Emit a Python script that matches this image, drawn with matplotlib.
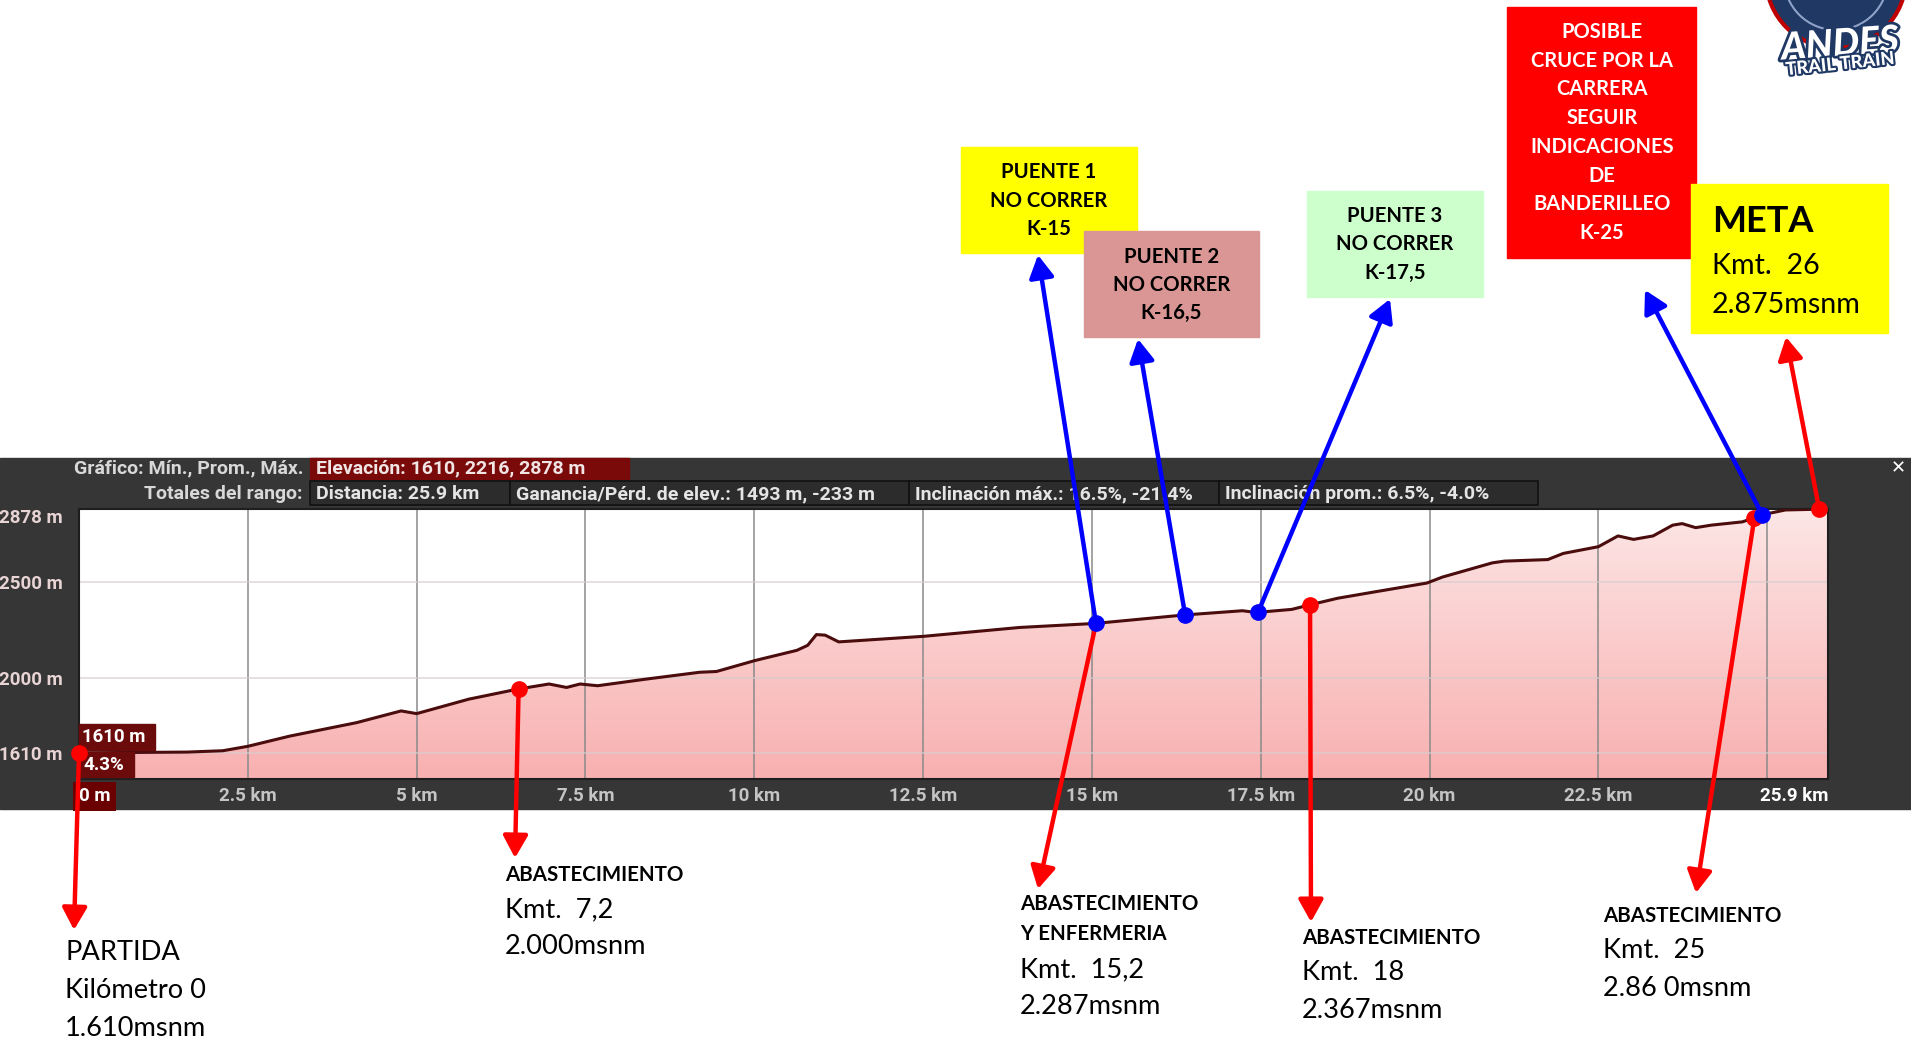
import numpy as np
import matplotlib.pyplot as plt
from matplotlib.patches import Rectangle, Circle
from matplotlib.colors import LinearSegmentedColormap
import matplotlib.patheffects as pe

# elevation profile
dist_km = [0.0, 0.8, 1.6, 2.13, 2.5, 3.12, 4.11, 4.77, 5.0, 5.77, 6.49, 6.96, 7.22, 7.42,
           7.68, 8.41, 9.19, 9.44, 10.01, 10.63, 10.79, 10.92, 11.05, 11.25, 12.51, 13.93,
           15.05, 16.37, 17.23, 17.43, 17.96, 18.22, 18.64, 19.22, 19.96, 20.19, 20.93, 21.11,
           21.75, 21.98, 22.5, 22.79, 23.02, 23.31, 23.6, 23.74, 23.94, 24.17, 24.63, 24.98,
           25.27, 25.9]
elev_m = [1610, 1612, 1614, 1621, 1644, 1697, 1767, 1828, 1814, 1889, 1941, 1968, 1950, 1968,
          1959, 1994, 2029, 2033, 2090, 2143, 2169, 2225, 2222, 2187, 2216, 2262,
          2283, 2327, 2349, 2340, 2356, 2379, 2414, 2449, 2493, 2524, 2598, 2607,
          2615, 2647, 2682, 2738, 2720, 2738, 2794, 2802, 2781, 2794, 2811, 2852,
          2873, 2878]

ytick_m = [1610, 2000, 2500, 2878]
ytick_labels = ['1610 m', '2000 m', '2500 m', '2878 m']
xtick_km = [0, 2.5, 5, 7.5, 10, 12.5, 15, 17.5, 20, 22.5, 25.9]
xtick_labels = ['0 m', '2.5 km', '5 km', '7.5 km', '10 km', '12.5 km', '15 km', '17.5 km',
                '20 km', '22.5 km', '25.9 km']
vgrid_km = [2.5, 5, 7.5, 10, 12.5, 15, 17.5, 20, 22.5, 25]

# header of the elevation widget
header_row1 = 'Gráfico: Mín., Prom., Máx.'
header_elev = 'Elevación: 1610, 2216, 2878 m'
header_row2 = 'Totales del rango:'
header_boxes = ['Distancia: 25.9 km', 'Ganancia/Pérd. de elev.: 1493 m, -233 m',
                'Inclinación máx.: 16.5%, -21.4%', 'Inclinación prom.: 6.5%, -4.0%']

# points of interest (km on the route)
red_dots_km = [0.0, 6.51, 18.23, 24.81, 25.77]
blue_dots_km = [15.06, 16.38, 17.46, 24.93]

puente_labels = [['PUENTE 1', 'NO CORRER', 'K-15'],
                 ['PUENTE 2', 'NO CORRER', 'K-16,5'],
                 ['PUENTE 3', 'NO CORRER', 'K-17,5']]
cruce_label = ['POSIBLE', 'CRUCE POR LA', 'CARRERA', 'SEGUIR', 'INDICACIONES', 'DE',
               'BANDERILLEO', 'K-25']
meta_label = ['META', 'Kmt.  26', '2.875msnm']
partida_label = ['PARTIDA', 'Kilómetro 0', '1.610msnm']
abast_labels = [['ABASTECIMIENTO', 'Kmt.  7,2', '2.000msnm'],
                ['ABASTECIMIENTO', 'Y ENFERMERIA', 'Kmt.  15,2', '2.287msnm'],
                ['ABASTECIMIENTO', 'Kmt.  18', '2.367msnm'],
                ['ABASTECIMIENTO', 'Kmt.  25', '2.86 0msnm']]

W, H = 1911, 1052
SANS = 'Lato'
UI = 'Roboto'
RED = '#ff0000'
BLUE = '#0000ff'
Y0, Y1 = 1474, 2878

fig = plt.figure(figsize=(W / 100, H / 100), dpi=100)

# background layer in pixel coordinates
bg = fig.add_axes([0, 0, 1, 1], zorder=0)
bg.set_xlim(0, W)
bg.set_ylim(H, 0)
bg.axis('off')
bg.add_patch(Rectangle((0, 458), W, 351, color='#363636'))

hdr = dict(va='center', fontsize=14, family=UI, fontweight='bold')
bg.text(303, 468, header_row1, ha='right', color='#d8d8d8', **hdr)
bg.add_patch(Rectangle((310, 458), 319, 21, color='#7a0a0a'))
bg.text(316, 468, header_elev, ha='left', color='#f0e4e4', **hdr)
bg.text(303, 494, header_row2, ha='right', color='#d8d8d8', **hdr)
box_edges = [310, 510, 909, 1219, 1538]
for i, txt in enumerate(header_boxes):
    x0, x1 = box_edges[i], box_edges[i + 1]
    bg.add_patch(Rectangle((x0, 481), x1 - x0, 24, facecolor='#2c2c2c', edgecolor='#111111', lw=1.2))
    bg.text(x0 + 6, 494, txt, ha='left', color='#e4e4e4', **hdr)
bg.text(1898, 468, '✕', ha='center', va='center', color='white', fontsize=13,
        fontweight='bold', family='DejaVu Sans')

# elevation chart
ax = fig.add_axes([79 / W, 1 - 779 / H, (1828 - 79) / W, (779 - 509) / H], zorder=1)
ax.set_xlim(0, 25.9)
ax.set_ylim(Y0, Y1)
ax.set_facecolor('white')
for s in ax.spines.values():
    s.set_color('#1e1e1e')
    s.set_linewidth(1.5)

fill = ax.fill_between(dist_km, elev_m, Y0, color='none', lw=0)
cmap = LinearSegmentedColormap.from_list('pinkfade', ['#f8b0b0', '#fde6e6'])
grad = np.linspace(0, 1, 256).reshape(-1, 1)
im = ax.imshow(grad, cmap=cmap, aspect='auto', origin='lower',
               extent=[0, 25.9, Y0, Y1], zorder=1)
im.set_clip_path(fill.get_paths()[0], transform=ax.transData)

for k in vgrid_km:
    ax.axvline(k, color='#8a8a8a', lw=1.1, zorder=2)
for m in ytick_m[:-1]:
    ax.axhline(m, color='#d6cccc', lw=1.1, zorder=2, alpha=0.8)

ax.plot(dist_km, elev_m, color='#4a0c0c', lw=2.2, zorder=3)

ax.set_yticks(ytick_m)
ax.set_yticklabels(ytick_labels, color='#e8d4d4', fontsize=13.5, family=UI, fontweight='bold')
ax.set_xticks(xtick_km)
ax.set_xticklabels(xtick_labels, color='#c4c4c4', fontsize=13.5, family=UI, fontweight='bold')
ax.tick_params(length=0, pad=12)
ax.tick_params(axis='x', pad=6)
ylabs = ax.get_yticklabels()
ylabs[-1].set_va('top')
xlabs = ax.get_xticklabels()
xlabs[0].set_ha('left')
xlabs[0].set_color('white')
xlabs[0].set_bbox(dict(facecolor='#6a0000', edgecolor='none', pad=4))
xlabs[-1].set_ha('right')
xlabs[-1].set_color('white')

# overlay in pixel coordinates for notes and arrows
ov = fig.add_axes([0, 0, 1, 1], zorder=2)
ov.set_xlim(0, W)
ov.set_ylim(H, 0)
ov.axis('off')

# small start labels
ov.add_patch(Rectangle((79, 724), 76, 26, color='#6b0b0b'))
ov.text(82, 737, '1610 m', ha='left', va='center', color='white', fontsize=13.5,
        family=UI, fontweight='bold')
ov.add_patch(Rectangle((79, 752), 55, 25, color='#6b0b0b'))
ov.text(83, 765, '4.3%', ha='left', va='center', color='white', fontsize=13.5,
        family=UI, fontweight='bold')


def arrow(km, tip, color):
    y = np.interp(km, dist_km, elev_m)
    ov.annotate('', xy=tip, xycoords='data', xytext=(km, y), textcoords=ax.transData,
                arrowprops=dict(arrowstyle='-|>,head_length=0.45,head_width=0.25',
                                color=color, lw=3.2, mutation_scale=30,
                                shrinkA=0, shrinkB=0),
                annotation_clip=False, zorder=5)


red_tips = [(74, 930), (515, 858), (1311, 922), (1696, 893), (1786, 337)]
for km, tip in zip(red_dots_km, red_tips):
    arrow(km, tip, RED)
arrow(blue_dots_km[0], (1038, 889), RED)
blue_tips = [(1038, 255), (1138, 339), (1390, 299), (1645, 290)]
for km, tip in zip(blue_dots_km, blue_tips):
    arrow(km, tip, BLUE)

ov.plot(red_dots_km, np.interp(red_dots_km, dist_km, elev_m), 'o', color=RED, ms=11,
        transform=ax.transData, clip_on=False, zorder=6)
ov.plot(blue_dots_km, np.interp(blue_dots_km, dist_km, elev_m), 'o', color=BLUE, ms=11,
        transform=ax.transData, clip_on=False, zorder=6)

# bridge boxes
puente_boxes = [(961, 147, 176, 106, '#ffff00'), (1084, 231, 175, 106, '#d99694'),
                (1307, 191, 176, 106, '#ccffcc')]
puente_rows = [[172, 201, 229], [257, 285, 313], [216, 244, 273]]
for (x, y, w, h, c), lines, rows in zip(puente_boxes, puente_labels, puente_rows):
    ov.add_patch(Rectangle((x, y), w, h, color=c, zorder=3))
    for txt, ty in zip(lines, rows):
        ov.text(x + w / 2, ty, txt, ha='center', va='center', fontsize=14.6,
                fontweight='bold', family=SANS, color='black', zorder=4)

# red warning box
ov.add_patch(Rectangle((1507, 7), 189, 251, color=RED, zorder=3))
for i, txt in enumerate(cruce_label):
    ov.text(1602, 32 + i * 28.7, txt, ha='center', va='center', fontsize=14.5,
            fontweight='bold', family=SANS, color='white', zorder=4)

# finish box
ov.add_patch(Rectangle((1691, 184), 197, 149, color='#ffff00', zorder=3))
ov.text(1712, 222, meta_label[0], ha='left', va='center', fontsize=26, fontweight='bold',
        family=SANS, color='black', zorder=4)
ov.text(1712, 266, meta_label[1], ha='left', va='center', fontsize=20.6, family=SANS,
        color='black', zorder=4)
ov.text(1712, 305, meta_label[2], ha='left', va='center', fontsize=20.6, family=SANS,
        color='black', zorder=4)

# logo
ov.add_patch(Circle((1836, -22), 70, facecolor='#1f3864', edgecolor='#c00000', lw=3, zorder=3))
ov.add_patch(Circle((1836, -22), 52, facecolor='none', edgecolor='#8fa3c8', lw=1.5, zorder=3))
ov.text(1840, 44, 'ANDES', ha='center', va='center', fontsize=27, fontweight='black',
        style='italic', family=SANS, color='white', rotation=4, zorder=4,
        path_effects=[pe.withStroke(linewidth=4, foreground='#1f3864')])
ov.text(1840, 64, 'TRAIL TRAIN', ha='center', va='center', fontsize=13, fontweight='black',
        family=SANS, color='white', rotation=6, zorder=4,
        path_effects=[pe.withStroke(linewidth=3, foreground='#1f3864')])

# bottom notes
for txt, ty in zip(partida_label, [952, 991, 1029]):
    ov.text(65, ty, txt, ha='left', va='center', fontsize=19.6, family=SANS, color='black')

note_x = [505, 1020, 1302, 1603]
note_rows = [[875, 910, 947], [904, 934, 970, 1007], [938, 973, 1010], [916, 951, 988]]
for x, lines, rows in zip(note_x, abast_labels, note_rows):
    nb = len(lines) - 2
    for i, (txt, ty) in enumerate(zip(lines, rows)):
        if i < nb:
            ov.text(x, ty, txt, ha='left', va='center', fontsize=14.8, fontweight='bold',
                    family=SANS, color='black')
        else:
            ov.text(x, ty, txt, ha='left', va='center', fontsize=19.6, family=SANS,
                    color='black')

fig.savefig('out.png', dpi=100)
